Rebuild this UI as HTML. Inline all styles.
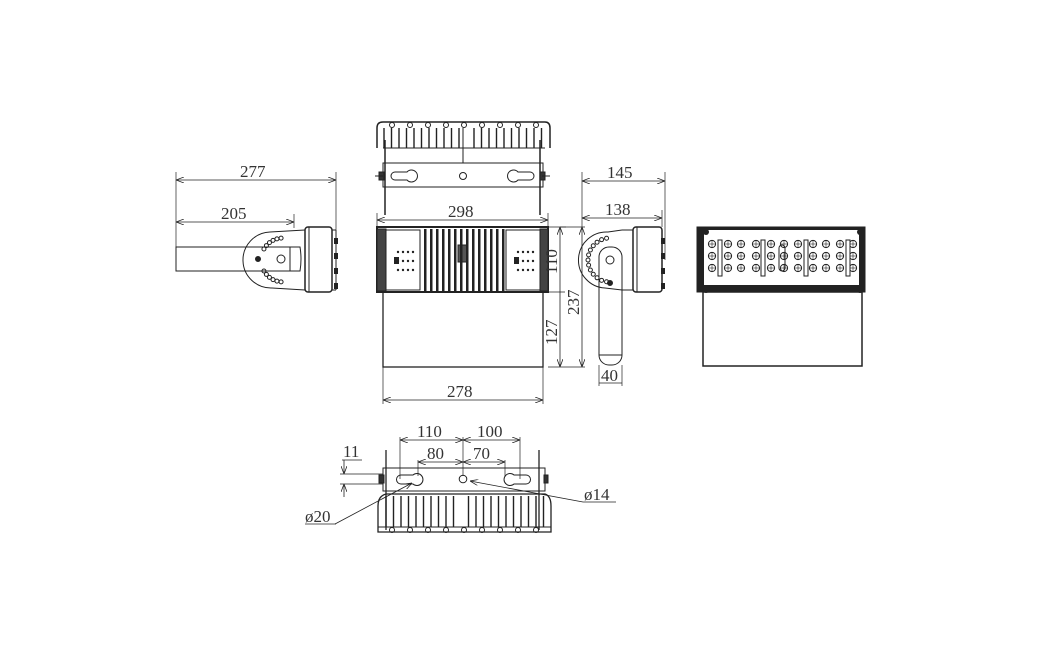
<!DOCTYPE html>
<html><head><meta charset="utf-8"><style>
html,body{margin:0;padding:0;background:#fff;}
svg{display:block}
text{font-family:"Liberation Serif",serif;font-size:17px;fill:#333;}
</style></head><body>
<svg id="s" width="1040" height="664" viewBox="0 0 1040 664" xmlns="http://www.w3.org/2000/svg" stroke="#222" fill="none" stroke-width="1">
<defs>
<marker id="a" markerWidth="8" markerHeight="6" refX="8" refY="3" orient="auto-start-reverse" markerUnits="userSpaceOnUse"><path d="M0,0 L8,3 L0,6" fill="none" stroke="#222" stroke-width="0.8"/></marker>
</defs>
<!-- TOP VIEW -->
<g id="top">
<path d="M377,148 L377,128 Q377,122 383,122 L545,122 Q550,122 550,128 L550,148" stroke-width="1.5"/>
<line x1="383" y1="148" x2="545" y2="148"/>
<line x1="385" y1="140" x2="385" y2="215" stroke-width="1.5"/>
<line x1="540" y1="140" x2="540" y2="215" stroke-width="1.5"/>
<rect x="383" y="163" width="160" height="24"/>
<path d="M395,172 h12 a6,6 0 1 1 0,8 h-12 a4,4 0 0 1 0,-8z"/>
<path d="M530,172 h-12 a6,6 0 1 0 0,8 h12 a4,4 0 0 0 0,-8z"/>
<circle cx="463" cy="176" r="3.5"/>
<line x1="463" y1="128" x2="463" y2="163"/>
<rect x="379" y="172" width="5" height="8" fill="#333"/><rect x="540" y="172" width="5" height="8" fill="#333"/>
<line x1="375" y1="176" x2="383" y2="176"/><line x1="542" y1="176" x2="550" y2="176"/>
</g>
<!-- 298 -->
<line x1="377" y1="213" x2="377" y2="226" stroke-width=".7"/><line x1="548" y1="213" x2="548" y2="226" stroke-width=".7"/>
<line x1="377" y1="220" x2="548" y2="220" marker-start="url(#a)" marker-end="url(#a)" stroke-width=".8"/>
<text x="448" y="217" stroke="none">298</text>
<!-- FRONT -->
<rect x="377" y="227" width="171" height="65" stroke-width="2"/>
<rect x="383" y="292" width="160" height="75" stroke-width="1.3"/>
<rect x="386" y="230" width="34" height="60" fill="#fff"/>
<rect x="506" y="230" width="34" height="60" fill="#fff"/>
<rect x="377" y="229" width="9" height="62" fill="#444"/><rect x="540" y="229" width="8" height="62" fill="#444"/>
<rect x="458" y="245" width="10" height="17" fill="#555"/>
<line x1="560" y1="227" x2="566" y2="227" stroke-width=".7"/>
<!-- 278 -->
<line x1="383" y1="367" x2="383" y2="404" stroke-width=".7"/><line x1="543" y1="367" x2="543" y2="404" stroke-width=".7"/>
<line x1="383" y1="400" x2="543" y2="400" marker-start="url(#a)" marker-end="url(#a)" stroke-width=".8"/>
<text x="447" y="397" stroke="none">278</text>
<!-- vertical dims -->
<line x1="548" y1="367" x2="585" y2="367" stroke-width=".7"/>
<line x1="548" y1="227" x2="585" y2="227" stroke-width=".7"/>
<line x1="548" y1="292" x2="565" y2="292" stroke-width=".7"/>
<line x1="560" y1="227" x2="560" y2="367" marker-start="url(#a)" marker-end="url(#a)" stroke-width=".8"/>
<line x1="582" y1="227" x2="582" y2="367" marker-start="url(#a)" marker-end="url(#a)" stroke-width=".8"/>
<text transform="translate(557,274) rotate(-90)" stroke="none">110</text>
<text transform="translate(557,345) rotate(-90)" stroke="none">127</text>
<text transform="translate(579,315) rotate(-90)" stroke="none">237</text>
<!-- SIDE VIEW right -->
<rect x="633" y="227" width="29" height="65" rx="3" stroke-width="1.5"/>
<line x1="637" y1="227" x2="637" y2="292"/>
<line x1="622" y1="230" x2="633" y2="230"/><line x1="622" y1="290" x2="633" y2="290"/>
<path d="M622,230 L608,232 A25,25 0 0 0 605,288 L622,290" />
<rect x="599" y="247" width="23" height="118" rx="10"/>
<line x1="599" y1="355" x2="622" y2="355"/>
<circle cx="610" cy="260" r="4"/><circle cx="610" cy="283" r="2.5" fill="#222"/>
<line x1="582" y1="172" x2="582" y2="227" stroke-width=".7"/>
<line x1="665" y1="172" x2="665" y2="260" stroke-width=".7"/>
<line x1="662" y1="210" x2="662" y2="227" stroke-width=".7"/>
<line x1="582" y1="181" x2="665" y2="181" marker-start="url(#a)" marker-end="url(#a)" stroke-width=".8"/>
<text x="607" y="178" stroke="none">145</text>
<line x1="582" y1="218" x2="662" y2="218" marker-start="url(#a)" marker-end="url(#a)" stroke-width=".8"/>
<text x="605" y="215" stroke="none">138</text>
<line x1="599" y1="365" x2="599" y2="386" stroke-width=".7"/><line x1="622" y1="365" x2="622" y2="386" stroke-width=".7"/>
<line x1="599" y1="383" x2="622" y2="383" stroke-width=".7"/>
<text x="601" y="381" stroke="none">40</text>
<!-- LEFT SIDE VIEW -->
<rect x="176" y="247" width="114" height="24"/>
<path d="M290,247 L300,247 Q302,259 300,271 L290,271"/>
<path d="M305,230 L270,232 A28,28 0 0 0 272,288 L305,290"/>
<rect x="305" y="227" width="27" height="65" rx="3" stroke-width="1.5"/>
<line x1="309" y1="227" x2="309" y2="292"/>
<line x1="332" y1="230" x2="336" y2="230"/><line x1="336" y1="230" x2="336" y2="290"/><line x1="332" y1="290" x2="336" y2="290"/>
<circle cx="258" cy="259" r="2.5" fill="#222"/><circle cx="281" cy="259" r="4"/>
<line x1="176" y1="172" x2="176" y2="247" stroke-width=".7"/>
<line x1="336" y1="172" x2="336" y2="230" stroke-width=".7"/>
<line x1="294" y1="214" x2="294" y2="228" stroke-width=".7"/>
<line x1="176" y1="180" x2="336" y2="180" marker-start="url(#a)" marker-end="url(#a)" stroke-width=".8"/>
<text x="240" y="177" stroke="none">277</text>
<line x1="176" y1="222" x2="294" y2="222" marker-start="url(#a)" marker-end="url(#a)" stroke-width=".8"/>
<text x="221" y="219" stroke="none">205</text>
<!-- RIGHT VIEW -->
<rect x="697" y="227" width="168" height="65" fill="#222"/>
<rect x="704" y="230" width="155" height="55" fill="#fff" stroke="none"/>
<rect x="703" y="292" width="159" height="74" stroke-width="1.5"/>
<!-- BOTTOM VIEW -->
<line x1="386" y1="450" x2="386" y2="530" stroke-width="1.3"/>
<line x1="539" y1="450" x2="539" y2="530" stroke-width="1.3"/>
<rect x="383" y="468" width="162" height="23"/>
<path d="M401,475 h12 a6,6 0 1 1 0,9 h-12 a4.5,4.5 0 0 1 0,-9z"/>
<path d="M526,475 h-12 a6,6 0 1 0 0,9 h12 a4.5,4.5 0 0 0 0,-9z"/>
<circle cx="463" cy="479" r="3.8"/>
<rect x="379" y="475" width="5" height="8" fill="#333"/><rect x="544" y="475" width="4" height="8" fill="#333"/>
<path d="M378,532 L378,506 Q378,496 386,494 L545,494 Q551,496 551,506 L551,532 Z" stroke-width="1.3"/>
<line x1="378" y1="527" x2="551" y2="527"/>
<line x1="400" y1="437" x2="400" y2="479" stroke-width=".7"/>
<line x1="463" y1="437" x2="463" y2="476" stroke-width=".7"/>
<line x1="520" y1="437" x2="520" y2="479" stroke-width=".7"/>
<line x1="418" y1="460" x2="418" y2="476" stroke-width=".7"/>
<line x1="505" y1="460" x2="505" y2="476" stroke-width=".7"/>
<line x1="400" y1="440" x2="463" y2="440" marker-start="url(#a)" marker-end="url(#a)" stroke-width=".8"/>
<line x1="463" y1="440" x2="520" y2="440" marker-start="url(#a)" marker-end="url(#a)" stroke-width=".8"/>
<line x1="418" y1="462" x2="463" y2="462" marker-start="url(#a)" marker-end="url(#a)" stroke-width=".8"/>
<line x1="463" y1="462" x2="505" y2="462" marker-start="url(#a)" marker-end="url(#a)" stroke-width=".8"/>
<text x="417" y="437" stroke="none">110</text>
<text x="477" y="437" stroke="none">100</text>
<text x="427" y="459" stroke="none">80</text>
<text x="473" y="459" stroke="none">70</text>
<line x1="340" y1="474" x2="383" y2="474" stroke-width=".7"/>
<line x1="340" y1="484" x2="383" y2="484" stroke-width=".7"/>
<line x1="344" y1="460" x2="344" y2="474" marker-end="url(#a)" stroke-width=".8"/>
<line x1="344" y1="497" x2="344" y2="484" marker-end="url(#a)" stroke-width=".8"/>
<text x="343" y="457" stroke="none">11</text><line x1="342" y1="460" x2="362" y2="460" stroke-width=".7"/>
<line x1="470" y1="481" x2="583" y2="502" marker-start="url(#a)" stroke-width=".8"/>
<line x1="583" y1="502" x2="616" y2="502" stroke-width=".7"/>
<text x="584" y="500" stroke="none">ø14</text>
<line x1="412" y1="483" x2="335" y2="524" marker-start="url(#a)" stroke-width=".8"/>
<line x1="305" y1="524" x2="336" y2="524" stroke-width=".7"/>
<text x="305" y="522" stroke="none">ø20</text>
<g id="gen"></g>
</svg>
<script>
var g=document.getElementById('gen'),ns='http://www.w3.org/2000/svg';
function el(t,a){var e=document.createElementNS(ns,t);for(var k in a)e.setAttribute(k,a[k]);g.appendChild(e);return e;}
for(var i=0;i<22;i++){var x=384+i*7.5;if(Math.abs(x-463)<4)continue;el('line',{x1:x,y1:128,x2:x,y2:148,'stroke-width':1.4});}
for(var i=0;i<9;i++){el('circle',{cx:392+i*18,cy:125,r:2.5});}
for(var i=0;i<22;i++){var x=386+i*7.5;if(Math.abs(x-463)<4)continue;el('line',{x1:x,y1:496,x2:x,y2:527,'stroke-width':1.4});}
for(var i=0;i<9;i++){el('circle',{cx:392+i*18,cy:530,r:2.5});}
for(var i=0;i<14;i++){var x=424+i*6;if(x>503)break;el('rect',{x:x,y:229,width:2.5,height:62,fill:'#222',stroke:'none'});}
[390,510].forEach(function(bx){for(var r=0;r<3;r++)for(var c=0;c<4;c++)el('circle',{cx:bx+8+c*5,cy:252+r*9,r:1.2,fill:'#222',stroke:'none'});
 el('rect',{x:bx+4,y:257,width:5,height:7,fill:'#222',stroke:'none'});});
// left side view dial LEDs: top-left and bottom-left arcs
for(var i=0;i<6;i++){var a=(95+i*11)*Math.PI/180;el('circle',{cx:283+22*Math.cos(a),cy:260-22*Math.sin(a),r:2});
 var b=(-95-i*11)*Math.PI/180;el('circle',{cx:283+22*Math.cos(b),cy:260-22*Math.sin(b),r:2});}
for(var i=0;i<13;i++){var a=Math.PI*(0.55+i*0.9/12);el('circle',{cx:610+22*Math.cos(a),cy:260+22*Math.sin(a),r:2});}
for(var i=0;i<4;i++){el('rect',{x:334,y:238+i*15,width:4,height:6,fill:'#222',stroke:'none'});el('rect',{x:661,y:238+i*15,width:4,height:6,fill:'#222',stroke:'none'});}
var cols=[712,728,741,756,771,784,798,813,826,840,853];
cols.forEach(function(x){for(var r=0;r<3;r++){el('circle',{cx:x,cy:244+r*12,r:3.6});el('line',{x1:x-3.6,y1:244+r*12,x2:x+3.6,y2:244+r*12,'stroke-width':.6});el('line',{x1:x,y1:240+r*12,x2:x,y2:248+r*12,'stroke-width':.6});}});
[720,763,806,848].forEach(function(x){el('rect',{x:x-2,y:240,width:4,height:36,fill:'#fff'});});
el('rect',{x:779,y:245,width:6,height:26,rx:3});
[[706,232],[860,232],[706,290],[860,290]].forEach(function(p){el('circle',{cx:p[0],cy:p[1],r:3,fill:'#222',stroke:'none'});});
</script>
</body></html>
